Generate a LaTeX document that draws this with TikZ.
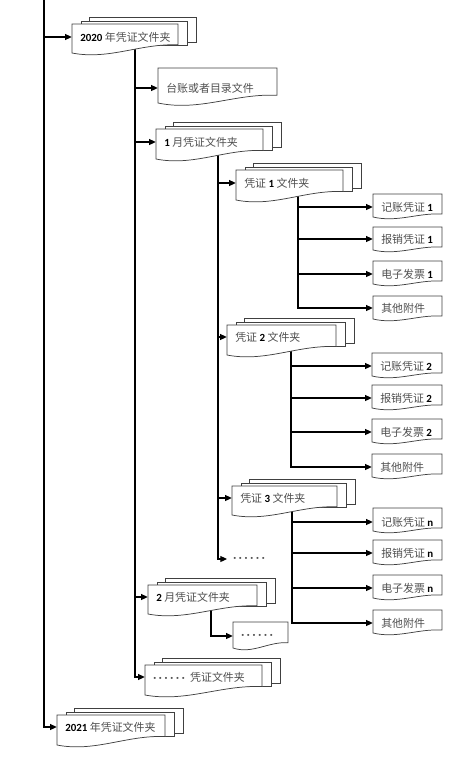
\documentclass[tikz,border=0pt]{standalone}
\usepackage{fontspec}
\setmainfont{Carlito}
\newfontfamily\cjk{Noto Sans CJK SC}
\usetikzlibrary{arrows.meta,fit}
\definecolor{zhgray}{HTML}{505050}
\newcommand\zh[1]{{\cjk\color{zhgray}#1}}
\newcommand\nb[1]{{\bfseries #1}}
\newcommand\pd{\textperiodcentered\hspace{2.1pt}}
\newcommand\sixdots{{\color{zhgray}\bfseries\pd\pd\pd\pd\pd\textperiodcentered}}
\pgfdeclarelayer{bg}\pgfsetlayers{bg,main}
\tikzset{
  docline/.style={draw=black!75, fill=white, line width=0.55pt},
  conn/.style={line width=0.85pt, -{Triangle[length=5pt,width=4.5pt]}},
  lbl/.style={anchor=west, inner sep=0pt, font=\fontsize{8.2}{9.5}\selectfont},
  hook/.style={inner sep=0pt, draw=none},
}
\newcommand\docwave[5]{% x0 t x1 b factor
  \pgfmathsetmacro\myH{#4-#2}\pgfmathsetmacro\myW{#3-#1}\pgfmathsetmacro\myR{#4-#5*\myH}%
  \path[docline] (#1,#2) -- (#3,#2) -- (#3,\myR) .. controls ({#1+0.65*\myW},{\myR-0.06*\myH}) and ({#1+0.35*\myW},{#4+0.25*\myH}) .. (#1,#4) -- cycle;}
\newcommand\docgen[8]{% name x0 t x1 b ay text factor
  \docwave{#2}{#3}{#4}{#5}{#8}%
  \pgfmathsetmacro\myF{2*#6-#3}%
  \node[hook, fit={(#2,#3) (#4,\myF)}] (#1) {};
  \node[lbl] (#1-t) at ({#2+8},#6) {#7};}
\newcommand\docone[7]{\docgen{#1}{#2}{#3}{#4}{#5}{#6}{#7}{0.22}}
\newcommand\docstack[7]{%
  \pgfmathsetmacro\myRR{#5-0.28*(#5-#3)}%
  \path[docline] ({#2+17},{#3-7}) rectangle ({#4+18},{\myRR-3});
  \path[docline] ({#2+9},{#3-3}) rectangle ({#4+9},\myRR);
  \docgen{#1}{#2}{#3}{#4}{#5}{#6}{#7}{0.28}}
\begin{document}
\begin{tikzpicture}[x=0.75pt,y=-0.75pt]
\useasboundingbox (0,0) rectangle (472,764);
% documents
\docstack{n2020}{72}{24}{178}{53}{37}{\nb{2020} \zh{年凭证文件夹}}
\docone{tz}{158}{68}{277}{103}{88}{\zh{台账或者目录文件}}
\docstack{m1}{156}{129}{263}{159}{142}{\nb{1} \zh{月凭证文件夹}}
\docstack{v1}{236}{170}{343}{200}{183}{\zh{凭证} \nb{1} \zh{文件夹}}
\docgen{a1}{373}{194}{442}{217}{207}{\zh{记账凭证} \nb{1}}{0.13}
\docgen{a2}{373}{227}{442}{250}{239}{\zh{报销凭证} \nb{1}}{0.13}
\docgen{a3}{373}{261}{442}{284}{274}{\zh{电子发票} \nb{1}}{0.13}
\docgen{a4}{373}{296}{442}{319}{308}{\zh{其他附件}}{0.13}
\docstack{v2}{227}{325}{336}{355}{337}{\zh{凭证} \nb{2} \zh{文件夹}}
\docgen{b1}{372}{353}{442}{376}{366}{\zh{记账凭证} \nb{2}}{0.13}
\docgen{b2}{372}{385}{442}{408}{398}{\zh{报销凭证} \nb{2}}{0.13}
\docgen{b3}{372}{419}{442}{442}{432}{\zh{电子发票} \nb{2}}{0.13}
\docgen{b4}{372}{454}{442}{477}{467}{\zh{其他附件}}{0.13}
\docstack{v3}{232}{486}{337}{515}{498}{\zh{凭证} \nb{3} \zh{文件夹}}
\docgen{c1}{373}{508}{442}{531}{522}{\zh{记账凭证} \nb{n}}{0.13}
\docgen{c2}{373}{540}{442}{563}{553}{\zh{报销凭证} \nb{n}}{0.13}
\docgen{c3}{373}{575}{442}{598}{588}{\zh{电子发票} \nb{n}}{0.13}
\docgen{c4}{373}{610}{442}{633}{623}{\zh{其他附件}}{0.13}
\node[lbl, inner xsep=4.5pt] (dots1) at (227,559) {\sixdots};
\docstack{m2}{148}{585}{257}{614}{597}{\nb{2} \zh{月凭证文件夹}}
\docgen{d2}{233}{622}{288}{648}{636}{\sixdots}{0.2}
\docstack{md}{145}{665}{262}{695}{677}{\sixdots\hspace{4pt}\zh{凭证文件夹}}
\docstack{n2021}{57}{715}{165}{745}{727}{\nb{2021} \zh{年凭证文件夹}}
% trunk starts
\coordinate (t0) at (44,0);
\coordinate (ta) at (135,48);
\coordinate (tb) at (218,152);
\coordinate (tc) at (298,193);
\coordinate (td) at (291,348);
\coordinate (te) at (292,508);
\coordinate (tf) at (211,607);
\begin{pgfonlayer}{bg}
\draw[conn] (t0) |- (n2020);
\draw[conn] (t0) |- (n2021);
\draw[conn] (ta) |- (tz);
\draw[conn] (ta) |- (m1);
\draw[conn] (ta) |- (m2);
\draw[conn] (ta) |- (md);
\draw[conn] (tb) |- (v1);
\draw[conn] (tb) |- (v2);
\draw[conn] (tb) |- (v3);
\draw[conn] (tb) |- (dots1);
\foreach \k in {1,...,4} {
  \draw[conn] (tc) |- (a\k);
  \draw[conn] (td) |- (b\k);
  \draw[conn] (te) |- (c\k);
}
\draw[conn] (tf) |- (d2);
\end{pgfonlayer}
\end{tikzpicture}
\end{document}
